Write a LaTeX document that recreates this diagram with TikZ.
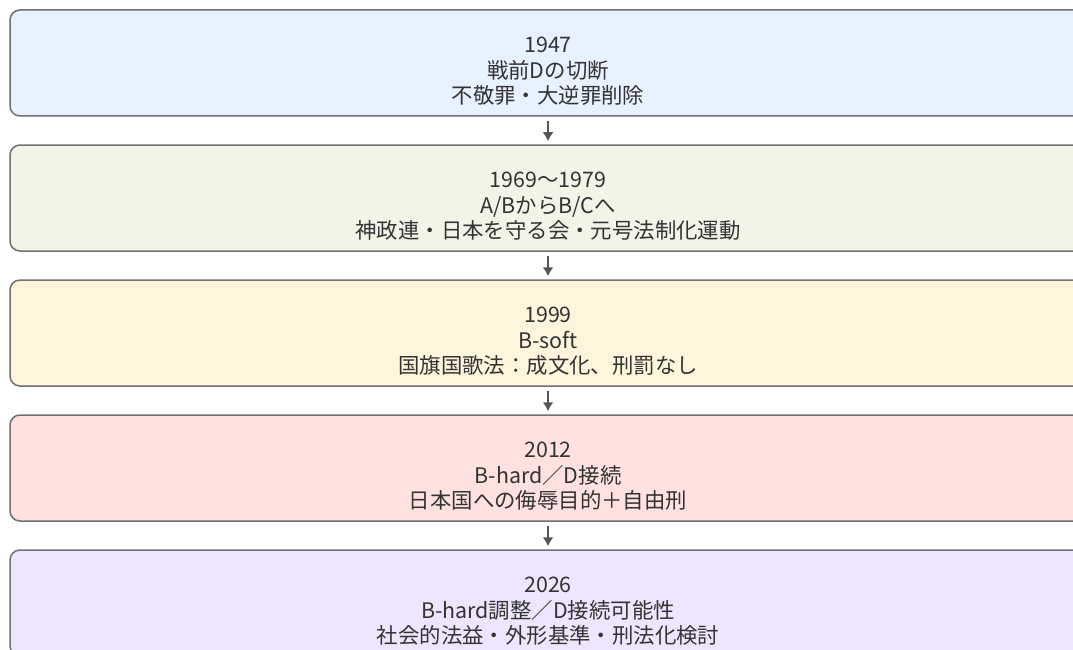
\documentclass[tikz,border=0pt]{standalone}
\usepackage{fontspec}
\setmainfont{Noto Sans CJK JP}
\usepackage{tikz}
\usetikzlibrary{arrows.meta}

\definecolor{boxline}{HTML}{707070}
\definecolor{arrowgray}{HTML}{555555}
\definecolor{txtgray}{HTML}{333333}
\definecolor{fillblue}{HTML}{E8F1FF}
\definecolor{fillgreen}{HTML}{F0F5E8}
\definecolor{fillyellow}{HTML}{FFF4DC}
\definecolor{fillred}{HTML}{FFE2E0}
\definecolor{fillviolet}{HTML}{EEE6FF}

\begin{document}
\begin{tikzpicture}[x=1pt,y=1pt,node distance=135pt,
				step box/.style={rectangle,rounded corners=10pt,draw=boxline,
					line width=1.5pt,minimum width=1076pt,minimum height=106pt,
					inner sep=0pt},
				step text/.style={anchor=base,inner sep=0pt,align=center,text=txtgray,
					font=\fontsize{21.4}{25.5}\selectfont}]
				
				\useasboundingbox (0,0) rectangle (1073,-650);
				\clip (0,0) rectangle (1073,-650);
				
				\node[step box,fill=fillblue] (A) at (548,-63) {};
				\node[step box,fill=fillgreen] (B) [below of=A] {};
				\node[step box,fill=fillyellow] (C) [below of=B] {};
				\node[step box,fill=fillred] (D) [below of=C] {};
				\node[step box,fill=fillviolet] (E) [below of=D] {};
				
				% texts, last baseline 94pt under the top edge
				\node[step text] (a) at ([yshift=-94.5pt]A.north) {1947\\戦前Dの切断\\不敬罪・大逆罪削除};
				\node[step text] (b) at ([yshift=-94.5pt]B.north) {1969～1979\\A/BからB/Cへ\\神政連・日本を守る会・元号法制化運動};
				\node[step text] (c) at ([yshift=-94.5pt]C.north) {1999\\B-soft\\国旗国歌法：成文化、刑罰なし};
				\node[step text] (d) at ([yshift=-94.5pt]D.north) {2012\\B-hard／D接続\\日本国への侮辱目的＋自由刑};
				\node[step text] (e) at ([yshift=-94.5pt]E.north) {2026\\B-hard調整／D接続可能性\\社会的法益・外形基準・刑法化検討};
				
				\path[-{Latex[length=9pt,width=11pt]},draw=arrowgray,fill=arrowgray,
					line width=2pt,shorten <=4pt,shorten >=3pt]
				(A) edge (B)
				(B) edge (C)
				(C) edge (D)
				(D) edge (E);
			\end{tikzpicture}
\end{document}
